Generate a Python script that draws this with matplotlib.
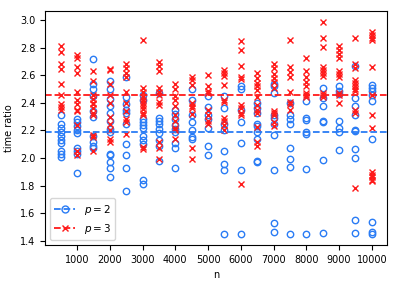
import matplotlib
matplotlib.use("Agg")
import matplotlib.pyplot as plt
from matplotlib.lines import Line2D

n_values = [500, 1000, 1500, 2000, 2500, 3000, 3500, 4000, 4500, 5000,
            5500, 6000, 6500, 7000, 7500, 8000, 8500, 9000, 9500, 10000]

p2_ratios = [
    [2.31, 2.25, 2.22, 2.19, 2.16, 2.13, 2.11, 2.05, 2.03, 2.01],
    [2.28, 2.26, 2.23, 2.20, 2.18, 2.07, 2.05, 2.03, 1.89],
    [2.72, 2.54, 2.50, 2.45, 2.34, 2.30, 2.16, 2.12, 2.09, 2.07],
    [2.56, 2.50, 2.43, 2.38, 2.33, 2.27, 2.21, 2.19, 2.03, 2.02, 1.97, 1.93, 1.86],
    [2.59, 2.44, 2.39, 2.35, 2.33, 2.25, 2.10, 2.02, 1.93, 1.76],
    [2.46, 2.42, 2.28, 2.26, 2.24, 2.22, 2.16, 2.13, 2.10, 1.84, 1.81],
    [2.47, 2.29, 2.27, 2.25, 2.21, 2.18, 2.13, 2.09, 1.98],
    [2.35, 2.32, 2.28, 2.24, 2.21, 2.19, 2.11, 2.07, 1.93],
    [2.50, 2.42, 2.31, 2.26, 2.20, 2.15, 2.14],
    [2.45, 2.37, 2.31, 2.28, 2.22, 2.09, 2.02],
    [2.45, 2.36, 2.25, 2.20, 2.05, 1.96, 1.91, 1.445],
    [2.52, 2.50, 2.35, 2.26, 2.11, 1.91, 1.445],
    [2.40, 2.36, 2.33, 2.25, 2.235, 2.19, 2.14, 1.98, 1.97],
    [2.54, 2.52, 2.47, 2.31, 2.29, 2.25, 2.17, 1.91, 1.525, 1.46],
    [2.40, 2.31, 2.28, 2.245, 2.075, 1.99, 1.935, 1.445],
    [2.415, 2.29, 2.275, 2.19, 2.175, 1.92, 1.447],
    [2.51, 2.435, 2.38, 2.27, 2.26, 1.985, 1.458],
    [2.52, 2.49, 2.465, 2.27, 2.22, 2.19, 2.058],
    [2.67, 2.435, 2.38, 2.31, 2.205, 2.195, 2.064, 1.998, 1.548, 1.458],
    [2.53, 2.51, 2.49, 2.46, 2.415, 2.138, 1.536, 1.462, 1.45],
]

p3_ratios = [
    [2.81, 2.77, 2.68, 2.65, 2.54, 2.46, 2.39, 2.37, 2.35],
    [2.75, 2.73, 2.66, 2.62, 2.48, 2.42, 2.39, 2.35, 2.34, 2.24, 2.05, 2.02],
    [2.63, 2.56, 2.46, 2.43, 2.40, 2.39, 2.36, 2.33, 2.31, 2.17, 2.155, 2.05],
    [2.65, 2.64, 2.54, 2.46, 2.40, 2.30, 2.25, 2.20, 2.14, 2.12],
    [2.685, 2.655, 2.62, 2.59, 2.48, 2.40, 2.34, 2.28, 2.265, 2.175],
    [2.86, 2.51, 2.48, 2.445, 2.42, 2.40, 2.375, 2.355, 2.325, 2.31, 2.08, 2.065],
    [2.695, 2.665, 2.63, 2.505, 2.48, 2.46, 2.405, 2.385, 2.12, 2.075, 1.995],
    [2.54, 2.50, 2.45, 2.42, 2.38, 2.31, 2.27, 2.22, 2.20, 2.14],
    [2.59, 2.565, 2.53, 2.40, 2.38, 2.36, 2.32, 2.075, 1.995],
    [2.605, 2.525, 2.49, 2.47, 2.35, 2.31, 2.27, 2.245],
    [2.64, 2.615, 2.595, 2.53, 2.42, 2.405, 2.29, 2.27, 2.24, 2.20],
    [2.85, 2.785, 2.665, 2.59, 2.575, 2.385, 2.36, 2.325, 2.31, 1.815],
    [2.615, 2.58, 2.545, 2.52, 2.495, 2.445, 2.385, 2.35, 2.325, 2.225, 2.12, 2.09],
    [2.685, 2.655, 2.61, 2.58, 2.555, 2.51, 2.34, 2.325, 2.31, 2.265, 2.23],
    [2.86, 2.66, 2.625, 2.59, 2.48, 2.41, 2.39, 2.35],
    [2.725, 2.63, 2.59, 2.555, 2.525, 2.47, 2.46, 2.445],
    [2.99, 2.875, 2.805, 2.66, 2.64, 2.615, 2.595, 2.47, 2.46, 2.445],
    [2.81, 2.785, 2.755, 2.73, 2.635, 2.61, 2.585, 2.47, 2.455, 2.40],
    [2.87, 2.68, 2.655, 2.57, 2.545, 2.52, 2.50, 2.485, 2.35, 2.325, 1.785],
    [2.915, 2.895, 2.875, 2.855, 2.66, 2.455, 2.315, 2.22, 1.90, 1.88, 1.86, 1.84, 1.83],
]

mean_p2 = 2.191
mean_p3 = 2.457

series_labels = ["$p = 2$", "$p = 3$"]

blue = "#2a7cf5"
red = "#ff1a1a"

plt.rcParams["font.family"] = ["DejaVu Sans"]
plt.rcParams["font.size"] = 7

fig = plt.figure(figsize=(3.99, 2.84), dpi=100)
ax = fig.add_axes([0.113, 0.137, 0.858, 0.824])

for n, vals in zip(n_values, p2_ratios):
    ax.plot([n] * len(vals), vals, linestyle="none", marker="o", ms=4.6,
            mfc="none", mec=blue, mew=1.0)
for n, vals in zip(n_values, p3_ratios):
    ax.plot([n] * len(vals), vals, linestyle="none", marker="x", ms=4.6,
            color=red, mew=1.0)

ax.axhline(mean_p2, color=blue, ls="--", lw=1.3)
ax.axhline(mean_p3, color=red, ls="--", lw=1.3)

ax.set_xticks([1000, 2000, 3000, 4000, 5000, 6000, 7000, 8000, 9000, 10000])
ax.set_yticks([1.4, 1.6, 1.8, 2.0, 2.2, 2.4, 2.6, 2.8, 3.0])
ax.set_xlabel("n")
ax.set_ylabel("time ratio")

handles = [
    Line2D([], [], color=blue, ls="--", marker="o", mfc="none", mec=blue, ms=5, lw=1.3),
    Line2D([], [], color=red, ls="--", marker="x", ms=5, lw=1.3),
]
ax.legend(handles, series_labels, loc="lower left", fontsize=7.5)

fig.savefig("out.png", dpi=100)
